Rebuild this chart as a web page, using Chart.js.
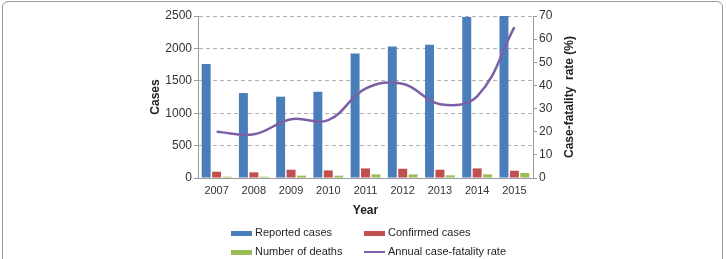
<!DOCTYPE html>
<html>
<head>
<meta charset="utf-8">
<script src="https://cdn.jsdelivr.net/npm/chart.js@4.4.1/dist/chart.umd.min.js"></script>
<style>
  html, body { margin: 0; padding: 0; background: #fff; }
  #wrap { position: relative; width: 726px; height: 259px; overflow: hidden; font-family: "Liberation Sans", Arial, sans-serif; }
  #frame { position: absolute; left: 2px; top: 1px; width: 719px; height: 300px; border: 1px solid #9a9a9a; border-radius: 6px; }
  #chartBox { position: absolute; left: 0; top: 0; width: 726px; height: 259px; }
  .lg { position: absolute; font-size: 11px; color: #1e1e1e; line-height: 14px; white-space: nowrap; }
  .lg .sw { display: inline-block; vertical-align: middle; margin-right: 3px; }
</style>
</head>
<body>
<div id="wrap">
  <div id="frame"></div>
  <div id="chartBox"><canvas id="casesChart"></canvas></div>
  <div id="legend"></div>
</div>
<script>
// data
const years = ['2007', '2008', '2009', '2010', '2011', '2012', '2013', '2014', '2015'];
const reportedCases = [1760, 1311, 1255, 1332, 1923, 2031, 2056, 2485, 2500];
const confirmedCases = [97, 87, 128, 117, 148, 143, 128, 148, 112];
const deaths = [20, 20, 36, 36, 56, 56, 41, 56, 77];
const fatalityRate = [20, 18.9, 25.4, 25, 38.6, 40.7, 31.9, 35.3, 65.2];

const casesTicks = [0, 500, 1000, 1500, 2000, 2500];
const rateTicks = [0, 10, 20, 30, 40, 50, 60, 70];

const BLUE = '#4a7ebb';
const RED = '#c0504d';
const GREEN = '#9bbb59';
const PURPLE = '#7d5fa5';
const AXIS = '#9a9a9a';
const RIGHT_TITLE = 'Case-fatality  rate (%)';

Chart.defaults.font.family = '"Liberation Sans", Arial, sans-serif';
Chart.defaults.font.size = 11;
Chart.defaults.color = '#333';

// right axis title reads bottom-to-top in the figure, chart.js turns it the other way
const rightTitlePlugin = {
  id: 'rightTitle',
  afterDraw(chart) {
    const s = chart.scales.y1;
    const c = chart.ctx;
    c.save();
    c.translate(s.right - 10, (chart.chartArea.top + chart.chartArea.bottom) / 2);
    c.rotate(-Math.PI / 2);
    c.font = 'bold 12px "Liberation Sans", Arial, sans-serif';
    c.fillStyle = '#1e1e1e';
    c.textAlign = 'center';
    c.textBaseline = 'middle';
    c.fillText(RIGHT_TITLE, 0, 0);
    c.restore();
  }
};

const ctx = document.getElementById('casesChart');

new Chart(ctx, {
  type: 'bar',
  data: {
    labels: years,
    datasets: [
      {
        type: 'line',
        label: 'Annual case-fatality rate',
        data: fatalityRate,
        yAxisID: 'y1',
        borderColor: PURPLE,
        backgroundColor: PURPLE,
        borderWidth: 2.5,
        pointRadius: 0,
        tension: 0.4,
        order: 0
      },
      { label: 'Reported cases', data: reportedCases, backgroundColor: BLUE, order: 1 },
      { label: 'Confirmed cases', data: confirmedCases, backgroundColor: RED, order: 1 },
      { label: 'Number of deaths', data: deaths, backgroundColor: GREEN, order: 1 }
    ]
  },
  options: {
    responsive: true,
    maintainAspectRatio: false,
    animation: false,
    datasets: {
      bar: { categoryPercentage: 0.84, barPercentage: 0.86 }
    },
    layout: { padding: { left: 146, right: 146, top: 16, bottom: 40 } },
    plugins: {
      legend: { display: false },
      tooltip: { enabled: false }
    },
    scales: {
      x: {
        grid: { display: false, drawTicks: false },
        border: { display: true, color: AXIS, width: 1 },
        ticks: { padding: 6, color: '#333', font: { size: 11 } },
        title: { display: true, text: 'Year', color: '#1e1e1e', font: { size: 12, weight: 'bold' }, padding: { top: 0, bottom: 1 } },
        afterFit: (scale) => { scale.height = 41; }
      },
      y: {
        position: 'left',
        min: 0,
        max: 2500,
        afterBuildTicks: (scale) => { scale.ticks = casesTicks.map(v => ({ value: v })); },
        grid: { color: '#b0b0b0', drawTicks: true, tickLength: 4, tickColor: AXIS },
        border: { display: true, color: AXIS, dash: [4, 3] },
        ticks: { padding: 2, color: '#333', font: { size: 12 }, callback: (v) => String(v) },
        title: { display: true, text: 'Cases', color: '#1e1e1e', font: { size: 12, weight: 'bold' }, padding: { top: 2, bottom: 0 } },
        afterFit: (scale) => { scale.width = 52; }
      },
      y1: {
        position: 'right',
        min: 0,
        max: 70,
        afterBuildTicks: (scale) => { scale.ticks = rateTicks.map(v => ({ value: v })); },
        grid: { drawOnChartArea: false, drawTicks: true, tickLength: 4, color: AXIS },
        border: { display: true, color: AXIS },
        ticks: { padding: 2, color: '#333', font: { size: 12 }, callback: (v) => String(v) },
        title: { display: false },
        afterFit: (scale) => { scale.width = 47; }
      }
    }
  },
  plugins: [rightTitlePlugin]
});

// legend in two rows, like the figure
const legendItems = [
  { text: 'Reported cases', color: BLUE, kind: 'box', x: 231, y: 225 },
  { text: 'Confirmed cases', color: RED, kind: 'box', x: 364, y: 225 },
  { text: 'Number of deaths', color: GREEN, kind: 'box', x: 231, y: 244 },
  { text: 'Annual case-fatality rate', color: PURPLE, kind: 'line', x: 364, y: 244 }
];
const legend = document.getElementById('legend');
for (const item of legendItems) {
  const el = document.createElement('div');
  el.className = 'lg';
  el.style.left = item.x + 'px';
  el.style.top = item.y + 'px';
  const sw = document.createElement('span');
  sw.className = 'sw';
  sw.style.width = '21px';
  sw.style.height = item.kind === 'box' ? '5px' : '2px';
  sw.style.background = item.color;
  el.append(sw, document.createTextNode(item.text));
  legend.append(el);
}
</script>
</body>
</html>
